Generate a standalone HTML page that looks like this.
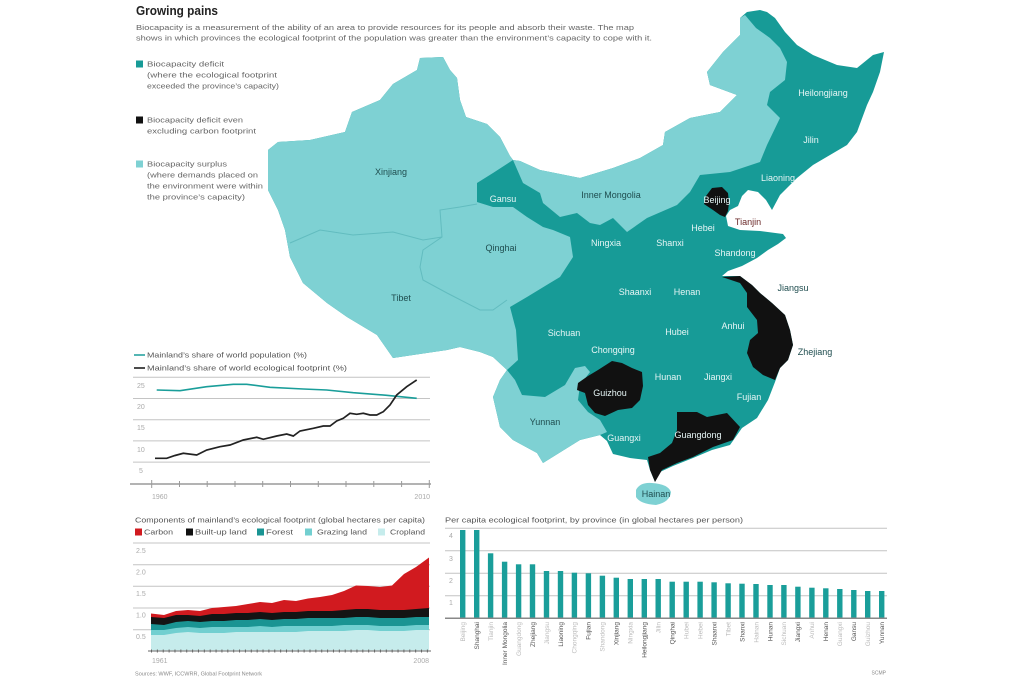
<!DOCTYPE html>
<html>
<head>
<meta charset="utf-8">
<style>
html,body{margin:0;padding:0;background:#fff;}
body{width:1020px;height:680px;overflow:hidden;}
svg{display:block;font-family:"Liberation Sans",sans-serif;}
</style>
</head>
<body>
<svg width="1020" height="680" viewBox="0 0 1020 680" xmlns="http://www.w3.org/2000/svg">
<rect width="1020" height="680" fill="#fff"/>

<!-- Header -->
<text x="136" y="15" font-size="12.5" font-weight="bold" fill="#222" textLength="82" lengthAdjust="spacingAndGlyphs">Growing pains</text>
<text x="136" y="30" font-size="7.5" fill="#666" textLength="498" lengthAdjust="spacingAndGlyphs">Biocapacity is a measurement of the ability of an area to provide resources for its people and absorb their waste. The map</text>
<text x="136" y="40.5" font-size="7.5" fill="#666" textLength="516" lengthAdjust="spacingAndGlyphs">shows in which provinces the ecological footprint of the population was greater than the environment’s capacity to cope with it.</text>

<!-- Legend -->
<rect x="136" y="60.5" width="7" height="7" fill="#179b97"/>
<text x="147" y="66.5" font-size="7.5" fill="#666" textLength="77" lengthAdjust="spacingAndGlyphs">Biocapacity deficit</text>
<text x="147" y="77.5" font-size="7.5" fill="#666" textLength="130" lengthAdjust="spacingAndGlyphs">(where the ecological footprint</text>
<text x="147" y="88.5" font-size="7.5" fill="#666" textLength="132" lengthAdjust="spacingAndGlyphs">exceeded the province’s capacity)</text>

<rect x="136" y="116.5" width="7" height="7" fill="#111"/>
<text x="147" y="122.5" font-size="7.5" fill="#666" textLength="96" lengthAdjust="spacingAndGlyphs">Biocapacity deficit even</text>
<text x="147" y="133.5" font-size="7.5" fill="#666" textLength="109" lengthAdjust="spacingAndGlyphs">excluding carbon footprint</text>

<rect x="136" y="160.5" width="7" height="7" fill="#7ed1d3"/>
<text x="147" y="166.5" font-size="7.5" fill="#666" textLength="80" lengthAdjust="spacingAndGlyphs">Biocapacity surplus</text>
<text x="147" y="177.5" font-size="7.5" fill="#666" textLength="111" lengthAdjust="spacingAndGlyphs">(where demands placed on</text>
<text x="147" y="188.5" font-size="7.5" fill="#666" textLength="116" lengthAdjust="spacingAndGlyphs">the environment were within</text>
<text x="147" y="199.5" font-size="7.5" fill="#666" textLength="98" lengthAdjust="spacingAndGlyphs">the province’s capacity)</text>

<!-- MAP -->
<!-- base dark outline -->
<polygon fill="#179b97" points="268,150 278,142 310,140 345,132 352,112 380,100 393,84 417,70 420,58 443,57 450,70 457,78 460,100 466,117 487,124 500,137 510,156 513,160 520,161 540,170 580,178 613,168 640,158 663,145 665,132 690,118 720,112 737,95 710,85 707,72 723,52 740,35 740,18 747,12 760,10 767,12 775,18 785,32 797,45 813,55 837,65 857,68 873,55 884,52 880,72 873,92 867,105 857,132 847,145 830,155 813,165 797,178 780,195 772,210 766,200 758,192 748,190 742,196 738,206 730,210 726,216 728,226 740,230 760,231 783,234 786,238 778,244 768,250 757,258 742,266 728,271 722,276 740,276 752,285 760,293 772,303 785,315 790,330 793,345 788,360 780,368 775,382 768,400 757,418 742,428 730,445 712,450 693,458 673,466 660,472 655,482 650,470 647,460 630,458 613,454 607,441 600,435 580,440 543,463 537,453 513,440 500,427 493,397 500,380 507,370 493,357 480,352 460,347 447,350 413,355 393,358 377,335 347,317 327,303 303,283 290,257 285,230 278,210 268,190"/>
<!-- west light (Xinjiang, Tibet, Qinghai) -->
<polygon fill="#7ed1d3" points="513,160 510,156 500,137 487,124 466,117 460,100 457,78 450,70 443,57 420,58 417,70 393,84 380,100 352,112 345,132 310,140 278,142 268,150 268,190 278,210 285,230 290,257 303,283 327,303 347,317 377,335 393,358 413,355 447,350 460,347 480,352 493,357 507,370 518,360 516,330 510,307 527,297 550,283 560,277 573,257 570,237 553,230 543,227 527,217 513,207 493,207 477,202 477,183 493,173"/>
<!-- Inner Mongolia -->
<polygon fill="#7ed1d3" points="513,160 520,161 540,170 580,178 613,168 640,158 663,145 665,132 690,118 720,112 737,95 710,85 707,72 723,52 740,35 740,18 745,15 756,28 770,38 780,48 787,62 785,80 770,92 767,105 780,118 767,145 760,162 730,172 700,175 690,192 677,205 647,218 627,232 613,218 600,225 590,223 577,213 560,217 543,203 540,193 523,183"/>
<!-- Yunnan -->
<polygon fill="#7ed1d3" points="507,370 515,380 522,395 545,397 565,385 575,368 585,366 590,372 580,385 578,400 588,412 600,420 607,432 600,435 580,440 543,463 537,453 513,440 500,427 493,397 500,380"/>
<!-- Hainan -->
<path fill="#7ed1d3" d="M636,490 Q640,482 652,483 Q668,484 671,492 Q670,502 656,505 Q640,504 636,497 Z"/>
<!-- internal borders in the west -->
<polyline fill="none" stroke="#62bcbf" stroke-width="1" points="290,243 297,240 320,230 353,235 393,232 423,240 442,237"/>
<polyline fill="none" stroke="#62bcbf" stroke-width="1" points="477,204 460,207 440,210 442,237 423,250 420,267 423,280 447,293 480,310 493,310 507,300"/>
<!-- black provinces -->
<polygon fill="#111" points="706,196 712,188 722,187 728,193 729,203 728,211 725,217 720,215 713,210 704,204"/>
<polygon fill="#111" points="722,277 740,276 752,285 760,293 772,303 785,315 790,330 793,345 788,360 780,368 775,380 763,375 753,367 747,353 750,340 758,333 757,320 747,307 747,293 740,283"/>
<polygon fill="#111" points="578,383 588,376 598,370 612,361 622,363 632,368 642,372 643,386 640,400 632,408 618,410 605,416 595,413 588,405 585,393 577,390"/>
<polygon fill="#111" points="677,412 697,412 707,417 727,413 740,427 733,440 713,447 693,457 677,463 662,470 655,482 650,470 648,457 660,453 672,443 677,430"/>

<!-- map labels -->
<g font-size="9" text-anchor="middle">
<g fill="#1f4d4f">
<text x="391" y="175">Xinjiang</text>
<text x="401" y="301">Tibet</text>
<text x="501" y="251">Qinghai</text>
<text x="611" y="198">Inner Mongolia</text>
<text x="545" y="425">Yunnan</text>
<text x="656" y="497">Hainan</text>
<text x="793" y="291">Jiangsu</text>
<text x="815" y="355">Zhejiang</text>
</g>
<text x="748" y="225" fill="#6b2a2a">Tianjin</text>
<g fill="#e6f5f5">
<text x="503" y="202">Gansu</text>
<text x="823" y="96">Heilongjiang</text>
<text x="811" y="143">Jilin</text>
<text x="778" y="181">Liaoning</text>
<text x="717" y="203">Beijing</text>
<text x="703" y="231">Hebei</text>
<text x="606" y="246">Ningxia</text>
<text x="670" y="246">Shanxi</text>
<text x="735" y="256">Shandong</text>
<text x="635" y="295">Shaanxi</text>
<text x="687" y="295">Henan</text>
<text x="564" y="336">Sichuan</text>
<text x="677" y="335">Hubei</text>
<text x="733" y="329">Anhui</text>
<text x="613" y="353">Chongqing</text>
<text x="668" y="380">Hunan</text>
<text x="718" y="380">Jiangxi</text>
<text x="610" y="396">Guizhou</text>
<text x="749" y="400">Fujian</text>
<text x="624" y="441">Guangxi</text>
<text x="698" y="438">Guangdong</text>
</g>
</g>

<!-- LINE CHART -->
<line x1="134" y1="355" x2="145" y2="355" stroke="#1a9e9a" stroke-width="1.5"/>
<text x="147" y="357.5" font-size="7.5" fill="#555" textLength="160" lengthAdjust="spacingAndGlyphs">Mainland’s share of world population (%)</text>
<line x1="134" y1="368" x2="145" y2="368" stroke="#111" stroke-width="1.5"/>
<text x="147" y="370.5" font-size="7.5" fill="#555" textLength="200" lengthAdjust="spacingAndGlyphs">Mainland’s share of world ecological footprint (%)</text>
<g stroke="#c4c4c4" stroke-width="1">
<line x1="133" y1="377.3" x2="430" y2="377.3"/>
<line x1="133" y1="398.5" x2="430" y2="398.5"/>
<line x1="133" y1="419.7" x2="430" y2="419.7"/>
<line x1="133" y1="440.9" x2="430" y2="440.9"/>
<line x1="133" y1="462.1" x2="430" y2="462.1"/>
</g>
<g font-size="7" fill="#aaa">
<text x="137" y="388">25</text>
<text x="137" y="409">20</text>
<text x="137" y="430">15</text>
<text x="137" y="452">10</text>
<text x="139" y="473">5</text>
</g>
<line x1="130" y1="484" x2="431" y2="484" stroke="#9a9a9a" stroke-width="1.5"/>
<g stroke="#9a9a9a" stroke-width="1">
<line x1="151.7" y1="480" x2="151.7" y2="488"/>
<line x1="179.5" y1="481" x2="179.5" y2="487"/>
<line x1="207.2" y1="481" x2="207.2" y2="487"/>
<line x1="235" y1="481" x2="235" y2="487"/>
<line x1="262.7" y1="481" x2="262.7" y2="487"/>
<line x1="290.5" y1="481" x2="290.5" y2="487"/>
<line x1="318.3" y1="481" x2="318.3" y2="487"/>
<line x1="346" y1="481" x2="346" y2="487"/>
<line x1="373.8" y1="481" x2="373.8" y2="487"/>
<line x1="401.6" y1="481" x2="401.6" y2="487"/>
<line x1="429.3" y1="480" x2="429.3" y2="488"/>
</g>
<text x="152" y="499" font-size="7" fill="#aaa">1960</text>
<text x="430" y="499" font-size="7" fill="#aaa" text-anchor="end">2010</text>
<polyline fill="none" stroke="#1a9e9a" stroke-width="1.6" points="156.7,390 180,390.7 206.7,386.7 233.3,384.3 246.7,384.3 270,387.3 303.3,389 326.7,390 353.3,392.7 386.7,395.3 416.7,398.3"/>
<polyline fill="none" stroke="#222" stroke-width="1.7" points="155,458.3 166.7,458.3 175,455.5 183.3,453.3 196.7,455 206.7,450 220,446.7 230,445 243.3,440 256.7,437.3 263.3,439.3 276.7,436 286.7,434 293.3,436 300,431 313.3,428.3 323.3,426 330,426 336.7,421 343.3,418.3 350,413.3 356.7,414.3 363.3,413.3 370,415 376.7,415 383.3,411.7 390,405 396.7,395 406.7,386.7 416.7,380"/>

<!-- STACKED AREA -->
<text x="135" y="522.5" font-size="7.5" fill="#555" textLength="290" lengthAdjust="spacingAndGlyphs">Components of mainland’s ecological footprint (global hectares per capita)</text>
<g font-size="7.5" fill="#555">
<rect x="135" y="528.5" width="7" height="7" fill="#d11a1f"/>
<text x="144" y="534.5" textLength="29" lengthAdjust="spacingAndGlyphs">Carbon</text>
<rect x="186" y="528.5" width="7" height="7" fill="#111"/>
<text x="195" y="534.5" textLength="52" lengthAdjust="spacingAndGlyphs">Built-up land</text>
<rect x="257" y="528.5" width="7" height="7" fill="#1a9493"/>
<text x="266" y="534.5" textLength="27" lengthAdjust="spacingAndGlyphs">Forest</text>
<rect x="305" y="528.5" width="7" height="7" fill="#72cfd0"/>
<text x="317" y="534.5" textLength="50" lengthAdjust="spacingAndGlyphs">Grazing land</text>
<rect x="378" y="528.5" width="7" height="7" fill="#c6ecec"/>
<text x="390" y="534.5" textLength="35" lengthAdjust="spacingAndGlyphs">Cropland</text>
</g>
<g stroke="#c4c4c4" stroke-width="1">
<line x1="133" y1="543" x2="430" y2="543"/>
<line x1="133" y1="564.7" x2="430" y2="564.7"/>
<line x1="133" y1="586.3" x2="430" y2="586.3"/>
<line x1="133" y1="608" x2="430" y2="608"/>
<line x1="133" y1="629.7" x2="430" y2="629.7"/>
</g>
<g font-size="7" fill="#aaa">
<text x="136" y="553">2.5</text>
<text x="136" y="574.5">2.0</text>
<text x="136" y="596">1.5</text>
<text x="136" y="617.5">1.0</text>
<text x="136" y="639">0.5</text>
</g>
<path fill="#d11a1f" d="M151,651 L151,613.5 164,615 176,611 188,610 200,611 212,608 224,607 236,606 248,604 260,602 272,603 284,600 296,601 308,598.5 320,597 332,595 344,591 356,585.5 368,586 380,587 392,585.5 404,574 416,567 429,557.5 L429,651 Z"/>
<path fill="#141414" d="M151,651 L151,617 164,618 176,615 188,615 200,616 212,614 224,614 236,613 248,613 260,612 272,613 284,612 296,612 308,611 320,611 332,611 344,610 356,609 368,609 380,610 392,610 404,610 416,609 429,608 L429,651 Z"/>
<path fill="#1a9493" d="M151,651 L151,624 164,625 176,622 188,621 200,622 212,621 224,621 236,620 248,620 260,619 272,620 284,619 296,619 308,618 320,618 332,618 344,618 356,617 368,617 380,618 392,618 404,618 416,617 429,617 L429,651 Z"/>
<path fill="#72cfd0" d="M151,651 L151,630 164,630 176,628 188,627 200,628 212,627 224,627 236,627 248,627 260,626 272,627 284,626 296,626 308,626 320,626 332,626 344,625 356,625 368,625 380,626 392,626 404,626 416,625 429,625 L429,651 Z"/>
<path fill="#c6ecec" d="M151,651 L151,635 164,635 176,633 188,632 200,633 212,633 224,633 236,632 248,632 260,632 272,632 284,632 296,632 308,631 320,631 332,631 344,631 356,630 368,630 380,631 392,631 404,631 416,630 429,630 L429,651 Z"/>
<line x1="148" y1="651" x2="431" y2="651" stroke="#9a9a9a" stroke-width="1.6"/>
<line x1="151" y1="651" x2="429" y2="651" stroke="#666" stroke-width="3" stroke-dasharray="1 4.87"/>
<text x="152" y="663" font-size="7" fill="#aaa">1961</text>
<text x="429" y="663" font-size="7" fill="#aaa" text-anchor="end">2008</text>
<text x="135" y="675.5" font-size="5.5" fill="#888" textLength="127" lengthAdjust="spacingAndGlyphs">Sources: WWF, ICCWRR, Global Footprint Network</text>

<!-- BAR CHART -->
<text x="445" y="522.5" font-size="7.5" fill="#555" textLength="298" lengthAdjust="spacingAndGlyphs">Per capita ecological footprint, by province (in global hectares per person)</text>
<g stroke="#c4c4c4" stroke-width="1">
<line x1="445" y1="528.3" x2="887" y2="528.3"/>
<line x1="445" y1="550.8" x2="887" y2="550.8"/>
<line x1="445" y1="573.3" x2="887" y2="573.3"/>
<line x1="445" y1="595.8" x2="887" y2="595.8"/>
</g>
<g font-size="7" fill="#aaa">
<text x="449" y="538">4</text>
<text x="449" y="561">3</text>
<text x="449" y="583">2</text>
<text x="449" y="605">1</text>
</g>
<g fill="#1a9e9a">
<rect x="460" y="530" width="5.4" height="88.3"/>
<rect x="474" y="530" width="5.4" height="88.3"/>
<rect x="487.9" y="553.3" width="5.4" height="65"/>
<rect x="501.9" y="561.7" width="5.4" height="56.6"/>
<rect x="515.9" y="564.3" width="5.4" height="54"/>
<rect x="529.8" y="564.3" width="5.4" height="54"/>
<rect x="543.8" y="571" width="5.4" height="47.3"/>
<rect x="557.8" y="571" width="5.4" height="47.3"/>
<rect x="571.7" y="572.7" width="5.4" height="45.6"/>
<rect x="585.7" y="573.3" width="5.4" height="45"/>
<rect x="599.7" y="575.7" width="5.4" height="42.6"/>
<rect x="613.6" y="577.7" width="5.4" height="40.6"/>
<rect x="627.6" y="579" width="5.4" height="39.3"/>
<rect x="641.6" y="579" width="5.4" height="39.3"/>
<rect x="655.5" y="579" width="5.4" height="39.3"/>
<rect x="669.5" y="581.7" width="5.4" height="36.6"/>
<rect x="683.5" y="581.7" width="5.4" height="36.6"/>
<rect x="697.4" y="581.7" width="5.4" height="36.6"/>
<rect x="711.4" y="582.3" width="5.4" height="36"/>
<rect x="725.4" y="583.3" width="5.4" height="35"/>
<rect x="739.3" y="583.7" width="5.4" height="34.6"/>
<rect x="753.3" y="584" width="5.4" height="34.3"/>
<rect x="767.3" y="585" width="5.4" height="33.3"/>
<rect x="781.2" y="585" width="5.4" height="33.3"/>
<rect x="795.2" y="586.7" width="5.4" height="31.6"/>
<rect x="809.2" y="587.7" width="5.4" height="30.6"/>
<rect x="823.1" y="588.3" width="5.4" height="30"/>
<rect x="837.1" y="589" width="5.4" height="29.3"/>
<rect x="851.1" y="590" width="5.4" height="28.3"/>
<rect x="865" y="591" width="5.4" height="27.3"/>
<rect x="879" y="591" width="5.4" height="27.3"/>
</g>
<line x1="445" y1="618.3" x2="887" y2="618.3" stroke="#888" stroke-width="1.5"/>
<g font-size="6.5" text-anchor="end">
<text transform="translate(465,622) rotate(-90)" fill="#bbb">Beijing</text>
<text transform="translate(479,622) rotate(-90)" fill="#555">Shanghai</text>
<text transform="translate(492.9,622) rotate(-90)" fill="#bbb">Tianjin</text>
<text transform="translate(506.9,622) rotate(-90)" fill="#555">Inner Mongolia</text>
<text transform="translate(520.9,622) rotate(-90)" fill="#bbb">Guangdong</text>
<text transform="translate(534.8,622) rotate(-90)" fill="#555">Zhejiang</text>
<text transform="translate(548.8,622) rotate(-90)" fill="#bbb">Jiangsu</text>
<text transform="translate(562.8,622) rotate(-90)" fill="#555">Liaoning</text>
<text transform="translate(576.7,622) rotate(-90)" fill="#bbb">Chongqing</text>
<text transform="translate(590.7,622) rotate(-90)" fill="#555">Fujian</text>
<text transform="translate(604.7,622) rotate(-90)" fill="#bbb">Shandong</text>
<text transform="translate(618.6,622) rotate(-90)" fill="#555">Xinjiang</text>
<text transform="translate(632.6,622) rotate(-90)" fill="#bbb">Ningxia</text>
<text transform="translate(646.6,622) rotate(-90)" fill="#555">Heilongjiang</text>
<text transform="translate(660.5,622) rotate(-90)" fill="#bbb">Jilin</text>
<text transform="translate(674.5,622) rotate(-90)" fill="#555">Qinghai</text>
<text transform="translate(688.5,622) rotate(-90)" fill="#bbb">Hubei</text>
<text transform="translate(702.4,622) rotate(-90)" fill="#bbb">Hebei</text>
<text transform="translate(716.4,622) rotate(-90)" fill="#555">Shaanxi</text>
<text transform="translate(730.4,622) rotate(-90)" fill="#bbb">Tibet</text>
<text transform="translate(744.3,622) rotate(-90)" fill="#555">Shanxi</text>
<text transform="translate(758.3,622) rotate(-90)" fill="#bbb">Hainan</text>
<text transform="translate(772.3,622) rotate(-90)" fill="#555">Hunan</text>
<text transform="translate(786.2,622) rotate(-90)" fill="#bbb">Sichuan</text>
<text transform="translate(800.2,622) rotate(-90)" fill="#555">Jiangxi</text>
<text transform="translate(814.2,622) rotate(-90)" fill="#bbb">Anhui</text>
<text transform="translate(828.1,622) rotate(-90)" fill="#555">Henan</text>
<text transform="translate(842.1,622) rotate(-90)" fill="#bbb">Guangxi</text>
<text transform="translate(856.1,622) rotate(-90)" fill="#555">Gansu</text>
<text transform="translate(870,622) rotate(-90)" fill="#bbb">Guizhou</text>
<text transform="translate(884,622) rotate(-90)" fill="#555">Yunnan</text>
</g>
<text x="886" y="674.5" font-size="5" fill="#888" text-anchor="end">SCMP</text>
</svg>
</body>
</html>
